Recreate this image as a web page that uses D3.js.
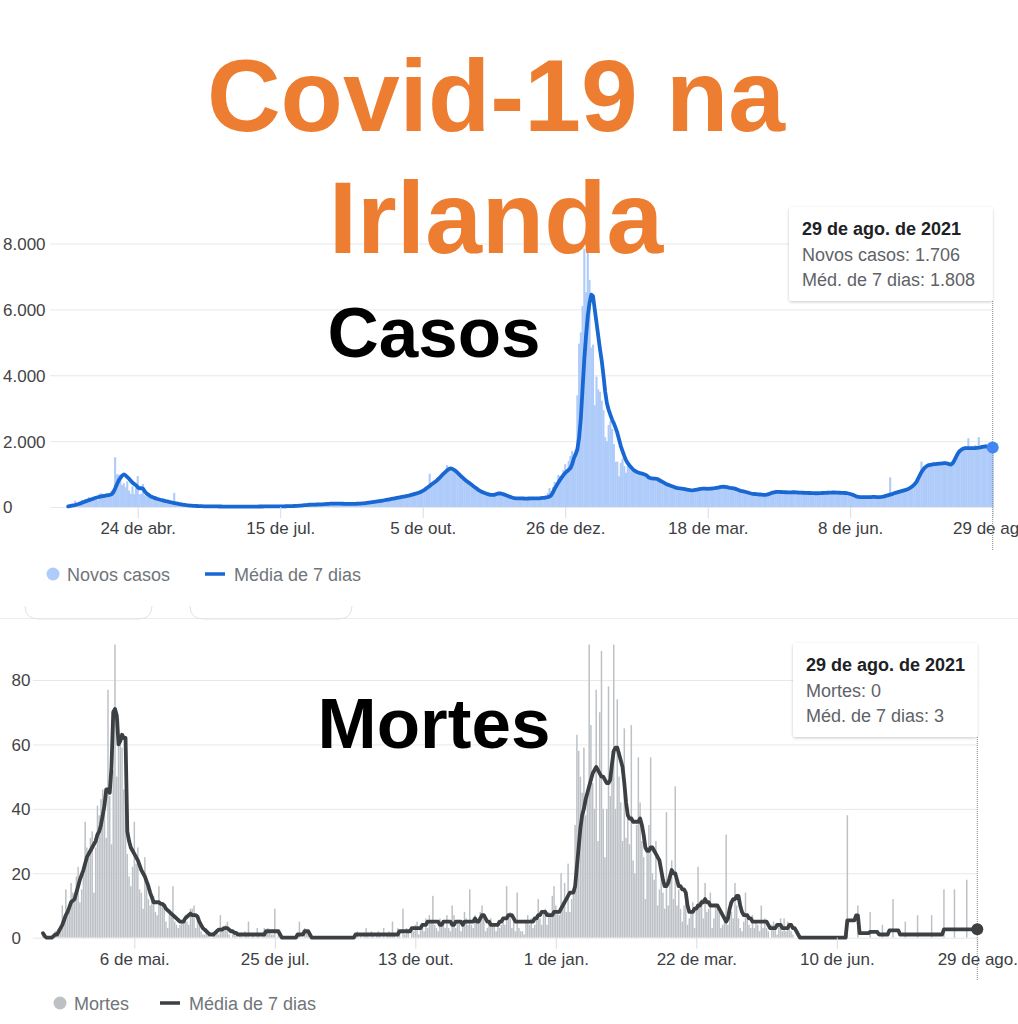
<!DOCTYPE html>
<html>
<head>
<meta charset="utf-8">
<script src="https://cdn.jsdelivr.net/npm/d3@7"></script>
<style>
  body { margin: 0; background: #fff; }
  svg { display: block; font-family: "Liberation Sans", Arial, sans-serif; }
</style>
</head>
<body>
<div id="chart"></div>
<script>
// 1. Podaci (dnevne vrijednosti od 15.3.2020 do 29.8.2021, jedan red = jedan mjesec)
const startDate = "2020-03-15";

const casesDaily = [
  30,25,70,45,190,125,100,120,220,200,240,255,300,210,200,290,325,
  210,400,420,390,330,370,345,370,500,480,1510,990,990,830,660,720,600,780,500,400,630,390,570,940,380,400,700,360,380,380,
  360,340,330,260,270,250,230,200,240,160,170,150,130,110,430,90,80,70,80,60,50,50,60,40,50,40,30,30,40,20,30,
  20,25,20,15,20,15,20,15,18,12,15,12,14,10,15,12,10,12,14,10,11,8,12,14,10,12,16,12,14,16,
  12,14,16,18,14,16,18,15,20,17,18,22,20,24,20,22,26,24,22,28,26,30,32,36,40,45,50,56,60,68,70,
  65,72,75,70,80,78,85,80,90,95,100,96,105,100,110,102,108,100,95,100,90,95,98,90,100,95,100,102,104,110,115,
  110,125,120,140,135,150,165,150,175,180,190,205,200,220,230,245,240,260,275,270,290,300,310,315,330,345,340,370,380,395,
  400,420,440,470,500,540,580,620,1010,700,760,800,830,880,920,1000,1050,1100,1270,1150,1200,1140,1100,1070,1000,950,930,880,820,780,740,
  700,650,630,570,550,490,480,440,435,400,395,370,365,350,375,380,415,420,395,395,365,355,325,305,285,275,265,250,265,270,
  260,220,265,300,250,240,250,270,240,280,290,260,300,330,320,430,580,480,600,760,730,970,940,900,1120,1300,1000,1400,1550,1700,1620,
  1750,3390,4960,5300,6100,7840,6520,8250,6890,4840,4930,3090,3960,3570,3500,3230,2940,2120,2000,2490,2610,2370,1910,1370,1380,930,1340,1470,1250,1040,1250,
  1200,1090,1160,1030,1080,1010,1040,990,1010,930,960,860,920,850,880,830,870,790,800,730,760,680,700,640,660,600,620,560,
  590,540,580,520,560,510,540,480,530,500,540,510,560,530,580,540,570,530,580,550,590,540,600,570,620,590,640,600,610,570,600,
  590,540,560,510,520,470,500,450,480,420,440,390,420,370,400,360,390,350,390,360,400,380,430,410,470,430,480,440,470,430,
  460,430,470,420,460,440,470,430,450,420,450,410,440,420,430,400,440,410,430,400,440,410,440,420,450,420,450,430,460,430,440,
  450,420,440,410,440,400,420,380,390,340,320,300,310,290,310,290,310,280,310,290,320,290,310,280,310,300,330,310,360,340,
  900,380,420,400,450,430,480,460,510,500,540,530,620,610,700,720,890,940,1380,1100,1240,1200,1320,1250,1330,1280,1350,1290,1340,1300,1360,
  1320,1350,1280,1320,1260,1400,1500,1600,1700,1720,1780,1760,1850,1790,2090,1740,1820,1760,1880,1800,2120,1790,1860,1820,1900,1790,1880,1760,1706
];

const casesAvg = [
  20,30,40,50,60,75,90,110,130,150,170,190,210,225,245,265,280,
  295,310,320,330,340,350,360,370,390,450,560,680,800,880,950,990,960,910,860,800,740,700,660,600,570,570,560,480,420,380,
  340,310,290,270,250,235,220,210,195,180,170,155,145,130,120,110,100,90,80,70,62,55,50,45,40,36,33,30,28,26,24,
  22,21,20,19,18,18,17,16,16,15,15,14,14,13,13,13,12,12,12,11,11,11,11,12,12,12,13,13,13,14,
  14,14,15,15,15,16,16,17,17,18,18,19,20,20,21,22,22,23,24,25,26,28,30,33,36,40,45,50,55,60,65,
  68,70,72,74,76,78,80,82,85,90,95,98,100,102,103,104,105,103,100,98,96,95,94,94,95,96,97,98,100,104,108,
  112,118,125,132,140,148,155,162,170,178,186,195,205,215,225,235,245,255,265,275,285,295,305,315,325,335,345,360,375,390,
  405,420,440,460,490,520,560,600,640,680,720,760,800,850,900,960,1010,1060,1110,1150,1170,1160,1130,1090,1040,990,940,890,840,800,760,
  720,680,640,600,560,520,490,460,440,420,400,385,370,365,370,385,405,415,410,395,375,355,335,315,295,280,268,262,260,262,
  262,258,255,255,258,260,262,262,260,262,265,270,275,280,290,300,320,360,450,560,650,740,820,900,970,1030,1080,1130,1180,1300,1480,
  1600,1750,2100,2700,3600,4500,5200,5800,6200,6450,6400,6000,5600,5200,4800,4450,4000,3500,3150,2950,2800,2650,2540,2400,2250,2050,1850,1700,1550,1420,1330,
  1260,1200,1140,1100,1070,1050,1030,1020,1000,980,950,900,880,870,860,860,850,820,790,760,730,700,680,660,640,620,600,580,
  570,565,560,550,540,530,520,510,505,510,520,530,540,550,555,560,555,550,555,560,565,570,580,590,600,610,615,610,600,590,580,
  575,565,550,530,510,490,480,470,455,440,425,410,400,395,390,385,380,375,370,370,375,390,410,430,445,455,460,460,455,450,
  450,448,445,445,447,450,448,445,440,438,435,432,430,428,425,425,423,420,418,418,420,422,425,428,430,432,435,438,440,440,438,
  435,432,430,428,425,420,410,395,380,360,335,315,305,300,298,300,302,300,298,300,305,305,300,298,300,305,315,330,345,360,
  375,390,410,430,445,460,475,490,505,520,540,565,600,640,690,750,850,960,1060,1140,1200,1240,1265,1280,1290,1300,1305,1310,1315,1320,1325,
  1330,1330,1320,1300,1290,1330,1420,1530,1630,1700,1740,1770,1785,1790,1790,1785,1785,1790,1790,1795,1800,1810,1825,1835,1840,1835,1825,1815,1808
];

const deathsDaily = [
  1,0,0,0,0,0,1,2,1,2,3,10,5,15,8,9,17,
  14,13,19,22,11,15,20,36,28,25,31,33,14,28,41,38,43,46,39,31,77,44,29,52,91,50,68,62,59,46,
  40,26,19,16,22,36,23,28,15,14,9,25,18,12,10,12,13,8,7,16,10,11,9,5,3,9,8,16,5,4,3,
  4,5,6,7,5,4,9,9,10,3,6,4,2,1,1,3,1,0,0,1,1,2,1,7,2,3,4,5,1,0,
  1,2,1,0,1,1,0,2,1,5,0,1,1,0,3,1,0,1,3,1,3,2,1,1,9,0,1,0,0,0,0,
  0,0,0,0,0,1,1,5,0,0,3,2,2,0,0,0,0,0,0,0,0,0,0,0,0,0,0,0,0,0,0,
  0,0,0,0,0,0,0,0,1,2,0,1,0,1,3,1,0,2,1,0,1,2,1,0,3,0,1,2,1,5,
  1,0,3,1,0,9,1,3,2,0,3,2,4,5,1,3,4,2,6,3,7,5,13,4,3,2,6,4,5,3,7,
  3,2,10,7,3,5,5,2,4,8,6,4,15,4,3,7,5,6,8,10,6,2,3,5,6,4,4,2,5,3,
  4,6,4,16,6,8,3,5,2,14,3,2,2,1,5,7,4,6,3,4,7,12,6,4,8,9,4,8,7,13,16,
  10,8,7,20,11,17,8,23,8,12,15,35,63,58,50,45,59,38,46,91,66,48,40,77,30,70,89,40,25,40,78,
  44,58,91,40,74,50,42,30,65,31,38,29,66,24,20,35,56,42,30,25,12,28,35,56,20,18,30,10,
  15,22,14,9,39,10,18,24,12,47,10,15,9,5,10,12,4,6,8,11,3,9,22,10,12,6,17,8,9,14,3,
  6,10,9,8,3,4,5,32,4,11,8,6,17,10,6,3,2,5,14,6,4,3,7,3,5,4,2,10,3,6,
  3,2,0,4,5,3,1,4,6,2,6,2,5,3,2,1,0,0,0,0,0,0,0,0,0,0,0,0,0,0,0,
  0,0,0,0,0,0,0,0,0,0,0,0,0,0,0,38,0,0,0,0,0,10,0,0,0,0,0,0,8,0,
  0,0,0,0,0,4,0,0,0,0,0,12,0,0,0,0,0,0,5,0,0,0,0,0,0,7,0,0,0,0,0,
  0,0,7,0,0,0,0,0,0,15,0,0,0,0,0,15,0,0,0,0,0,0,18,0,0,0,0,0,0
];

const deathsAvg = [
  1.4,0.5,0,0,0,0,0.5,1,1,2,3,4,5.5,7,8,9.5,11,
  11.5,12,14,16,18,19.5,21,23,25,26,27,28,29,30,32,33,35,38,41,46,46,45,53,70,71,69,60,61,63,62,
  62,33,30,28,27,26,25,24,22.5,21,20,19,17.5,16,14,12.5,11,11,11,11,10.5,10.5,10,9,8.5,8,7.5,7,6.5,6,5.5,
  5,5,5,6,6.5,7,7.5,7,7,7,6.5,5,4,3,2.5,2,1.5,1,1,1,1.5,2,2.5,2.5,2.5,3,3,3,2.5,2,
  2,1.5,1.5,1,1,1,1,1,1,1,1,1,1,1,1,1,1,1,1,2,2,2,2,2,2,2,2,1,0,0,0,
  0,0,0,0,0,0,1,1,1,1,2,2,2,1,0,0,0,0,0,0,0,0,0,0,0,0,0,0,0,0,0,
  0,0,0,0,0,0,0,0,1,1,1,1,1,1,1,1,1,1,1,1,1,1,1,1,1,1,1,1,1,1,
  1,1,1,2,2,2,2,2,2,2,3,3,3,3,3,3,4,4,4,5,5,5,5,5,5,5,4,4,5,5,5,
  5,5,4,4,5,5,5,5,4,5,5,5,5,5,5,6,5,5,6,7,7,6,5,5,4,4,4,4,4,5,
  5,6,6,6,7,7,7,6,5,5,5,5,5,5,5,5,5,5,5,6,6,7,7,8,8,8,7,7,7,7,8,
  8,8,8,9,10,11,12,13,14,14,14,16,22,28,34,38,40,43,45,47,49,51,52,53,52,51,50,50,49,48,48,
  49,54,58,59,59,57,55,53,48,42,38,37,37,36,36,36,36,37,35,32,28,27,27,28,28,27,26,25,
  24,21,18,16,16,17,19,21,20,20,18,16,16,15,15,14,10,8,8,8,9,9,10,10,11,11,12,11,11,10,10,
  10,10,10,9,8,7,6,5,6,9,11,12,12,13,13,10,8,7,7,7,6,6,5,5,5,5,5,5,5,5,
  5,4,3,3,3,3,4,4,4,3,3,3,3,4,4,3,3,2,1,0,0,0,0,0,0,0,0,0,0,0,0,
  0,0,0,0,0,0,0,0,0,0,0,0,0,0,0,5.4,5.4,5.4,5.4,5.4,6.9,6.9,1.4,1.4,1.4,1.4,1.4,1.4,1.8,1.8,
  1.8,1.8,1.8,1,1,1,1,1,1,2.3,2.3,2.3,2.3,2.3,2.3,1,1,1,1,1,1,1,1,1,1,1,1,1,1,1,1,
  1,1,1,1,1,1,1,1,1,2.6,2.6,2.6,2.6,2.6,2.6,2.6,2.6,2.6,2.6,2.6,2.6,2.6,2.6,2.6,2.6,2.6,2.6,2.6,2.6
];

const casesYTicks = [0, 2000, 4000, 6000, 8000];
const casesTickDates = ["2020-04-24", "2020-07-15", "2020-10-05", "2020-12-26", "2021-03-18", "2021-06-08", "2021-08-29"];
const casesTickLabels = ["24 de abr.", "15 de jul.", "5 de out.", "26 de dez.", "18 de mar.", "8 de jun.", "29 de ago."];

const deathsYTicks = [0, 20, 40, 60, 80];
const deathsTickDates = ["2020-05-06", "2020-07-25", "2020-10-13", "2021-01-01", "2021-03-22", "2021-06-10", "2021-08-29"];
const deathsTickLabels = ["6 de mai.", "25 de jul.", "13 de out.", "1 de jan.", "22 de mar.", "10 de jun.", "29 de ago."];

const tooltipDate = "29 de ago. de 2021";

// 2. Dimenzije
const width = 1018, height = 1024;
const parse = d3.utcParse("%Y-%m-%d");
const start = parse(startDate);
const fmt = d3.formatLocale({ decimal: ",", thousands: ".", grouping: [3], currency: ["R$", ""] }).format(",");

const svg = d3.select("#chart").append("svg")
    .attr("width", width)
    .attr("height", height);

svg.append("rect").attr("width", width).attr("height", height).attr("fill", "#fff");

const defs = svg.append("defs");
const shadow = defs.append("filter").attr("id", "shadow")
    .attr("x", "-10%").attr("y", "-10%").attr("width", "120%").attr("height", "130%");
shadow.append("feDropShadow")
    .attr("dx", 0).attr("dy", 1).attr("stdDeviation", 1.5)
    .attr("flood-color", "#000").attr("flood-opacity", 0.22);

// 3. Funkcija za crtanje jednog panela
function panel(cfg) {
    const dates = cfg.daily.map((_, i) => d3.utcDay.offset(start, i));
    const x = d3.scaleUtc()
        .domain([dates[0], dates[dates.length - 1]])
        .range(cfg.xRange);
    const y = d3.scaleLinear()
        .domain([0, cfg.yMax])
        .range(cfg.yRange);
    const step = x(dates[1]) - x(dates[0]);
    const bw = step * cfg.barRatio;

    // mreza + y os
    const gy = svg.append("g")
        .attr("transform", `translate(${cfg.gridLeft},0)`)
        .call(d3.axisLeft(y)
            .tickValues(cfg.yTicks)
            .tickFormat(fmt)
            .tickSize(-(cfg.xRange[1] - cfg.gridLeft))
            .tickPadding(0))
        .attr("font-family", null)
        .attr("font-size", 17);
    gy.select(".domain").remove();
    gy.selectAll(".tick line").attr("stroke", "#e8e8e8");
    gy.selectAll(".tick text")
        .attr("x", cfg.labelX - cfg.gridLeft)
        .attr("text-anchor", "start")
        .attr("dy", "0.35em")
        .attr("fill", "#444");

    // stupci
    defs.append("clipPath").attr("id", cfg.id + "-clip")
        .append("rect")
            .attr("x", 0).attr("y", cfg.clipTop)
            .attr("width", width).attr("height", cfg.yRange[0] - cfg.clipTop);

    svg.append("g")
        .attr("clip-path", `url(#${cfg.id}-clip)`)
        .selectAll("rect")
        .data(cfg.daily)
        .join("rect")
            .attr("x", (d, i) => x(dates[i]) - bw / 2)
            .attr("width", bw)
            .attr("y", d => y(d))
            .attr("height", d => y(0) - y(d))
            .attr("fill", cfg.barColor);

    // linija prosjeka
    const generatorLinije = d3.line()
        .x((d, i) => x(dates[i]))
        .y(d => y(d));

    svg.append("path")
        .datum(cfg.avg)
        .attr("d", generatorLinije)
        .attr("fill", "none")
        .attr("stroke", cfg.lineColor)
        .attr("stroke-width", 3.8)
        .attr("stroke-linejoin", "round")
        .attr("stroke-linecap", "round");

    // x os
    const gx = svg.append("g")
        .attr("transform", `translate(0,${cfg.yRange[0]})`)
        .call(d3.axisBottom(x)
            .tickValues(cfg.tickDates.map(parse))
            .tickFormat((d, i) => cfg.tickLabels[i])
            .tickSize(11)
            .tickPadding(4))
        .attr("font-family", null)
        .attr("font-size", 17);
    gx.select(".domain").remove();
    gx.selectAll(".tick line").attr("stroke", "#dadce0");
    gx.selectAll(".tick text").attr("fill", "#3c4043");

    // legenda
    const lg = svg.append("g").attr("font-size", 18).attr("fill", "#70757a");
    lg.append("circle")
        .attr("cx", cfg.legend.dot).attr("cy", cfg.legend.y).attr("r", 6.5)
        .attr("fill", cfg.barColor);
    lg.append("text")
        .attr("x", cfg.legend.dot + 14).attr("y", cfg.legend.y + 6.5)
        .text(cfg.legend.label1);
    lg.append("line")
        .attr("x1", cfg.legend.line).attr("x2", cfg.legend.line + 20)
        .attr("y1", cfg.legend.y).attr("y2", cfg.legend.y)
        .attr("stroke", cfg.lineColor).attr("stroke-width", 3.5);
    lg.append("text")
        .attr("x", cfg.legend.line + 29).attr("y", cfg.legend.y + 6.5)
        .text("Média de 7 dias");

    // okomita tockasta linija, tocka i tooltip
    const last = dates.length - 1;
    const lx = x(dates[last]);
    const tt = cfg.tooltip;

    svg.append("line")
        .attr("x1", lx).attr("x2", lx)
        .attr("y1", tt.y + tt.h).attr("y2", cfg.dotLineEnd)
        .attr("stroke", "#888").attr("stroke-width", 1)
        .attr("stroke-dasharray", "1,1");

    svg.append("circle")
        .attr("cx", lx).attr("cy", y(cfg.avg[last])).attr("r", 6)
        .attr("fill", cfg.dotColor);

    svg.append("rect")
        .attr("x", tt.x).attr("y", tt.y)
        .attr("width", lx - tt.x).attr("height", tt.h)
        .attr("rx", 3)
        .attr("fill", "#fff")
        .attr("filter", "url(#shadow)");

    const tg = svg.append("g").attr("font-size", 18);
    tg.append("text")
        .attr("x", tt.x + 13).attr("y", tt.y + 28)
        .attr("font-weight", "bold").attr("fill", "#202124")
        .text(tooltipDate);
    tg.append("text")
        .attr("x", tt.x + 13).attr("y", tt.y + 54)
        .attr("fill", "#5f6368")
        .text(`${cfg.legend.label1}: ${fmt(cfg.daily[last])}`);
    tg.append("text")
        .attr("x", tt.x + 13).attr("y", tt.y + 79)
        .attr("fill", "#5f6368")
        .text(`Méd. de 7 dias: ${fmt(Math.round(cfg.avg[last]))}`);
}

// 4. Panel slucajeva
panel({
    id: "cases",
    daily: casesDaily,
    avg: casesAvg,
    xRange: [68.2, 992.7],
    yMax: 8000,
    yRange: [507, 243.5],
    yTicks: casesYTicks,
    gridLeft: 50,
    labelX: 3,
    clipTop: 0,
    barRatio: 1.2,
    barColor: "#aecbfa",
    lineColor: "#1967d2",
    dotColor: "#4285f4",
    tickDates: casesTickDates,
    tickLabels: casesTickLabels,
    legend: { y: 574, dot: 53, line: 205, label1: "Novos casos" },
    tooltip: { x: 789, y: 207, h: 94 },
    dotLineEnd: 550
});

// razdjelnik i rubovi gumba
svg.append("line")
    .attr("x1", 0).attr("x2", width).attr("y1", 618.5).attr("y2", 618.5)
    .attr("stroke", "#ececec");
[[25, 152], [190, 352]].forEach(([a, b]) => {
    svg.append("path")
        .attr("d", `M${a},606 Q${a},619 ${a + 14},619 L${b - 14},619 Q${b},619 ${b},606`)
        .attr("fill", "none").attr("stroke", "#e3e3e3");
});

// 5. Panel smrti
panel({
    id: "deaths",
    daily: deathsDaily,
    avg: deathsAvg,
    xRange: [43, 977.3],
    yMax: 80,
    yRange: [937.7, 680],
    yTicks: deathsYTicks,
    gridLeft: 33,
    labelX: 11.5,
    clipTop: 643,
    barRatio: 0.85,
    barColor: "#bdc1c6",
    lineColor: "#3c4043",
    dotColor: "#3c4043",
    tickDates: deathsTickDates,
    tickLabels: deathsTickLabels,
    legend: { y: 1003, dot: 60, line: 160, label1: "Mortes" },
    tooltip: { x: 793, y: 643, h: 94 },
    dotLineEnd: 980
});

// 6. Naslovi
svg.append("g")
    .attr("fill", "#ed7d31")
    .attr("font-weight", "bold")
    .attr("font-size", 102)
    .attr("text-anchor", "middle")
    .selectAll("text")
    .data(["Covid-19 na", "Irlanda"])
    .join("text")
        .attr("x", 496)
        .attr("y", (d, i) => 131 + i * 122)
        .text(d => d);

svg.append("text")
    .attr("x", 434).attr("y", 357)
    .attr("text-anchor", "middle")
    .attr("font-weight", "bold").attr("font-size", 71)
    .attr("fill", "#000")
    .text("Casos");

svg.append("text")
    .attr("x", 434).attr("y", 748)
    .attr("text-anchor", "middle")
    .attr("font-weight", "bold").attr("font-size", 71)
    .attr("fill", "#000")
    .text("Mortes");
</script>
</body>
</html>
